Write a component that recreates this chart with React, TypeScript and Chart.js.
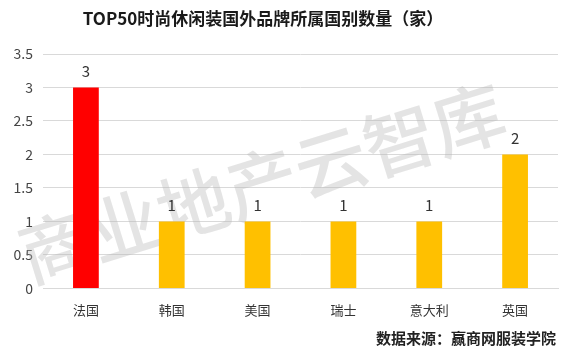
import React, { useEffect, useRef } from "react";
import { Chart, registerables } from "chart.js";

Chart.register(...registerables);

const categories = ["法国", "韩国", "美国", "瑞士", "意大利", "英国"];
const counts = [3, 1, 1, 1, 1, 2];
const barColors = ["#FF0000", "#FFC000", "#FFC000", "#FFC000", "#FFC000", "#FFC000"];
const yTicks = [0, 0.5, 1, 1.5, 2, 2.5, 3, 3.5];
const titleText = "TOP50时尚休闲装国外品牌所属国别数量（家）";
const sourceText = "数据来源：赢商网服装学院";
const watermarkText = "商业地产云智库";

const CJK = '"Noto Sans CJK SC", "Open Sans", sans-serif';

export default function App() {
  const ref = useRef<HTMLCanvasElement | null>(null);

  useEffect(() => {
    document.body.style.margin = "0";
    const canvas = ref.current!;
    const decor = {
      id: "decor",
      beforeDatasetsDraw(chart: any) {
        const ctx = chart.ctx;
        ctx.save();
        ctx.translate(262, 183);
        ctx.rotate(-0.3);
        ctx.font = `500 72px ${CJK}`;
        ctx.fillStyle = "rgba(185,185,185,0.38)";
        ctx.textAlign = "center";
        ctx.textBaseline = "middle";
        ctx.fillText(watermarkText, 0, 0);
        ctx.restore();
      },
      afterDraw(chart: any) {
        const ctx = chart.ctx;
        ctx.save();
        ctx.font = `bold 17px ${CJK}`;
        ctx.fillStyle = "#1a1a1a";
        ctx.textAlign = "center";
        ctx.textBaseline = "middle";
        ctx.fillText(titleText, 263, 19);
        ctx.font = `bold 15px ${CJK}`;
        ctx.fillStyle = "#222";
        ctx.textAlign = "right";
        ctx.fillText(sourceText, 556, 338);
        const meta = chart.getDatasetMeta(0);
        ctx.font = `15px ${CJK}`;
        ctx.fillStyle = "#333";
        ctx.textAlign = "center";
        ctx.textBaseline = "bottom";
        meta.data.forEach((el: any, i: number) => {
          ctx.fillText(String(counts[i]), el.x, el.y - 9);
        });
        ctx.restore();
      },
    };
    const chart = new Chart(canvas, {
      type: "bar",
      data: {
        labels: categories,
        datasets: [
          {
            data: counts,
            backgroundColor: barColors,
            borderWidth: 0,
            barPercentage: 0.3,
            categoryPercentage: 1,
          },
        ],
      },
      options: {
        responsive: false,
        animation: false,
        layout: { padding: { top: 54, right: 4, bottom: 33, left: 6 } },
        plugins: { legend: { display: false }, title: { display: false }, tooltip: { enabled: false } },
        scales: {
          x: {
            grid: { display: false },
            border: { color: "#d9d9d9" },
            ticks: { color: "#333", font: { size: 13, family: CJK }, padding: 6 },
          },
          y: {
            min: yTicks[0],
            max: yTicks[yTicks.length - 1],
            afterFit(scale: any) {
              scale.width = 37;
            },
            afterBuildTicks(scale: any) {
              scale.ticks = yTicks.map((v) => ({ value: v }));
            },
            ticks: {
              color: "#444",
              font: { size: 14, family: CJK },
              padding: 10,
              callback: (v: any) => String(v),
            },
            grid: { color: "#d9d9d9", drawTicks: false },
            border: { display: false },
          },
        },
      },
      plugins: [decor],
    });
    return () => chart.destroy();
  }, []);

  return (
    <div style={{ width: 562, height: 357, background: "#fff" }}>
      <canvas ref={ref} width={562} height={357} />
    </div>
  );
}
